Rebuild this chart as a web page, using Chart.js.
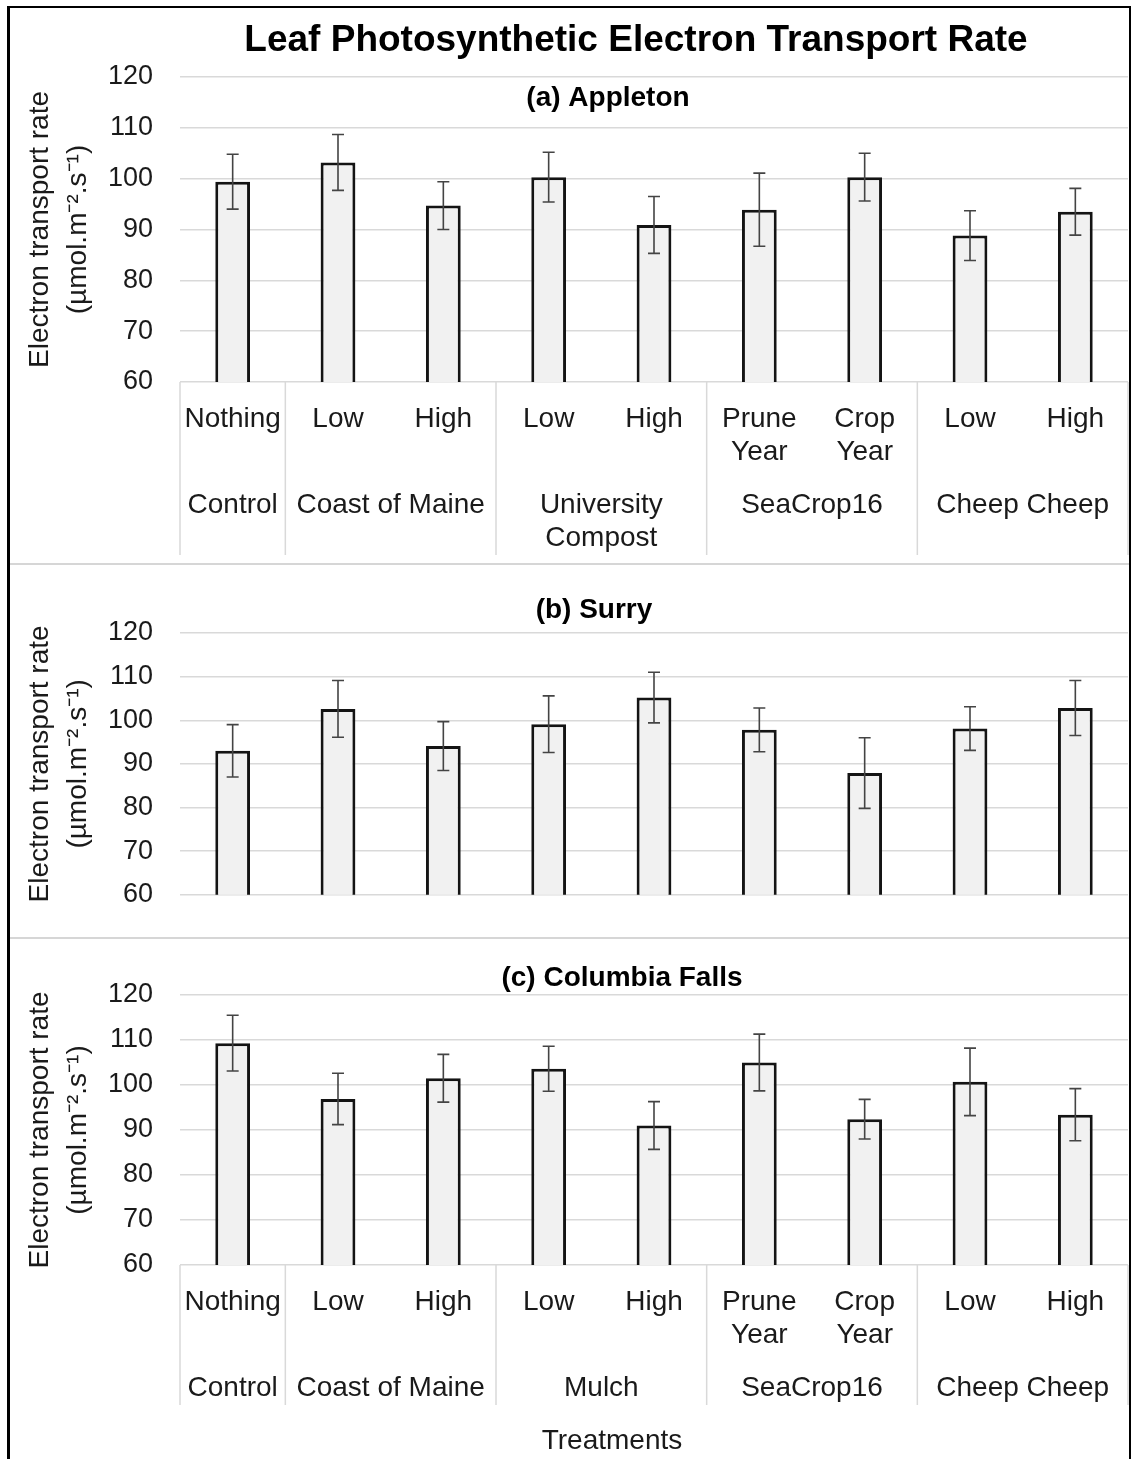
<!DOCTYPE html>
<html>
<head>
<meta charset="utf-8">
<script src="https://cdn.jsdelivr.net/npm/chart.js@4.4.1/dist/chart.umd.min.js"></script>
<style>
  html, body { margin: 0; padding: 0; background: #fff; }
  #fig { position: relative; width: 1133px; height: 1459px; overflow: hidden; }
  .frame { position: absolute; left: 7px; top: 6px; width: 1124px; height: 1460px;
           border: 2px solid #000; border-left-width: 3px; box-sizing: border-box; }
  .sep { position: absolute; left: 9px; width: 1120px; height: 2px; background: #d6d6d6; }
  canvas { position: absolute; left: 0; }
</style>
</head>
<body>
<div id="fig">
  <canvas id="panelA" width="1133" height="564" style="top:0px"></canvas>
  <canvas id="panelB" width="1133" height="374" style="top:564px"></canvas>
  <canvas id="panelC" width="1133" height="521" style="top:938px"></canvas>
  <div class="sep" style="top:563px"></div>
  <div class="sep" style="top:937px"></div>
  <div class="frame"></div>
</div>
<script>
// categories (first level) and treatment groups (second level)
const categories = [['Nothing'], ['Low'], ['High'], ['Low'], ['High'], ['Prune', 'Year'], ['Crop', 'Year'], ['Low'], ['High']];
const groupSizes = [1, 2, 2, 2, 2];
const groupsA = ['Control', 'Coast of Maine', ['University', 'Compost'], 'SeaCrop16', 'Cheep Cheep'];
const groupsC = ['Control', 'Coast of Maine', 'Mulch', 'SeaCrop16', 'Cheep Cheep'];

// y axis ticks
const yTicks = [60, 70, 80, 90, 100, 110, 120];

// electron transport rate, mean and error
const appletonMeans = [99.4, 103.2, 94.7, 100.3, 90.9, 93.9, 100.3, 88.8, 93.5];
const appletonErr   = [5.4, 5.5, 4.7, 4.9, 5.6, 7.2, 4.7, 4.9, 4.6];
const surryMeans    = [93.0, 102.6, 94.1, 99.1, 105.2, 97.8, 87.9, 98.1, 102.8];
const surryErr      = [6.0, 6.5, 5.6, 6.5, 5.8, 5.0, 8.1, 5.0, 6.3];
const columbiaMeans = [109.3, 96.9, 101.5, 103.6, 91.0, 105.0, 92.4, 100.7, 93.4];
const columbiaErr   = [6.2, 5.7, 5.3, 5.0, 5.3, 6.3, 4.4, 7.5, 5.8];

const FONT = '"Liberation Sans", Arial, sans-serif';
const TEXT = '#1a1a1a';
const GRID = '#d9d9d9';

// error bars on top of the bars
const errorBars = {
  id: 'errorBars',
  afterDatasetsDraw(chart, args, opts) {
    const { ctx, scales: { y } } = chart;
    const meta = chart.getDatasetMeta(0);
    const values = chart.data.datasets[0].data;
    ctx.save();
    ctx.strokeStyle = '#444';
    ctx.lineWidth = 1.6;
    meta.data.forEach((bar, i) => {
      const top = y.getPixelForValue(values[i] + opts.errors[i]);
      const bot = y.getPixelForValue(values[i] - opts.errors[i]);
      ctx.beginPath();
      ctx.moveTo(bar.x, top); ctx.lineTo(bar.x, bot);
      ctx.moveTo(bar.x - 6, top); ctx.lineTo(bar.x + 6, top);
      ctx.moveTo(bar.x - 6, bot); ctx.lineTo(bar.x + 6, bot);
      ctx.stroke();
    });
    ctx.restore();
  }
};

// titles, two-level category axis, axis title
const panelText = {
  id: 'panelText',
  afterDraw(chart, args, o) {
    const { ctx, chartArea: a, scales: { x } } = chart;
    ctx.save();
    ctx.textAlign = 'center';
    ctx.textBaseline = 'middle';
    ctx.fillStyle = '#000';
    if (o.title) {
      ctx.font = 'bold 37px ' + FONT;
      ctx.fillText(o.title, o.titleX, o.titleY);
    }
    ctx.font = 'bold 28px ' + FONT;
    ctx.fillText(o.subtitle, o.subX, a.top + o.subDy);

    if (o.groups) {
      ctx.fillStyle = TEXT;
      ctx.font = '28px ' + FONT;
      const half = (x.getPixelForValue(1) - x.getPixelForValue(0)) / 2;
      categories.forEach((lines, i) => {
        lines.forEach((t, j) => ctx.fillText(t, x.getPixelForValue(i), a.bottom + 37 + j * 33));
      });
      ctx.strokeStyle = GRID;
      ctx.lineWidth = 1.5;
      let start = 0;
      o.groups.forEach((g, gi) => {
        const n = groupSizes[gi];
        const cx = (x.getPixelForValue(start) + x.getPixelForValue(start + n - 1)) / 2;
        [].concat(g).forEach((t, j) => ctx.fillText(t, cx, a.bottom + 123 + j * 33));
        const sx = x.getPixelForValue(start) - half;
        ctx.beginPath(); ctx.moveTo(sx, a.bottom); ctx.lineTo(sx, a.bottom + o.sepLen); ctx.stroke();
        start += n;
      });
      const ex = x.getPixelForValue(start - 1) + half;
      ctx.beginPath(); ctx.moveTo(ex, a.bottom); ctx.lineTo(ex, a.bottom + o.sepLen); ctx.stroke();
    }
    if (o.axisTitle) {
      ctx.fillStyle = TEXT;
      ctx.font = '28px ' + FONT;
      ctx.fillText(o.axisTitle, o.axisX, a.bottom + o.axisDy);
    }
    ctx.restore();
  }
};

function makePanel(id, means, errors, padding, text) {
  return new Chart(document.getElementById(id), {
    type: 'bar',
    data: {
      labels: categories,
      datasets: [{
        data: means,
        backgroundColor: '#f1f1f1',
        borderColor: '#141414',
        borderWidth: 3,
        borderSkipped: false,
        categoryPercentage: 1.0,
        barPercentage: 0.33
      }]
    },
    options: {
      responsive: false,
      animation: false,
      layout: { padding: padding },
      plugins: {
        legend: { display: false },
        tooltip: { enabled: false },
        errorBars: { errors: errors },
        panelText: text
      },
      scales: {
        x: { display: false },
        y: {
          min: yTicks[0],
          max: yTicks[yTicks.length - 1],
          afterBuildTicks: (s) => { s.ticks = yTicks.map(v => ({ value: v })); },
          afterFit: (s) => { s.width = 180; },
          border: { display: false },
          grid: { color: GRID, lineWidth: 1.5, drawTicks: false },
          ticks: { font: { family: FONT, size: 27 }, color: TEXT, padding: 27 },
          title: {
            display: true,
            text: ['Electron transport rate', '(\u00b5mol.m\u207b\u00b2.s\u207b\u00b9)'],
            font: { family: FONT, size: 28, lineHeight: 1.36 },
            color: TEXT,
            padding: { top: 21, bottom: 0 }
          }
        }
      }
    },
    plugins: [errorBars, panelText]
  });
}

makePanel('panelA', appletonMeans, appletonErr, { top: 77, bottom: 182, left: 0, right: 5 }, {
  title: 'Leaf Photosynthetic Electron Transport Rate', titleX: 636, titleY: 41,
  subtitle: '(a) Appleton', subX: 608, subDy: 21,
  groups: groupsA, sepLen: 173
});
makePanel('panelB', surryMeans, surryErr, { top: 69, bottom: 25, left: 0, right: 5 }, {
  subtitle: '(b) Surry', subX: 594, subDy: -23
});
makePanel('panelC', columbiaMeans, columbiaErr, { top: 57, bottom: 194, left: 0, right: 5 }, {
  subtitle: '(c) Columbia Falls', subX: 622, subDy: -17,
  groups: groupsC, sepLen: 140,
  axisTitle: 'Treatments', axisX: 612, axisDy: 176
});
</script>
</body>
</html>
